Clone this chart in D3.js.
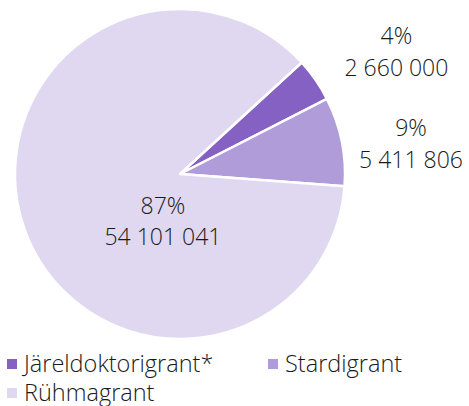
<!DOCTYPE html>
<html><head><meta charset="utf-8">
<script src="https://cdn.jsdelivr.net/npm/d3@7"></script>
<style>body{margin:0;background:#fff}svg{display:block}</style>
</head><body>
<svg id="c" width="469" height="406"></svg>
<script>
const categories = ["Järeldoktorigrant*", "Stardigrant", "Rühmagrant"];
const values = [2660000, 5411806, 54101041];
const percentLabels = ["4%", "9%", "87%"];
const valueLabels = ["2 660 000", "5 411 806", "54 101 041"];
const colors = ["#8561c4", "#b19cda", "#e0d8f0"];

const svg = d3.select("#c");
const cx = 180, cy = 174, R = 165;
const font = "'Open Sans', sans-serif";
const textColor = "#1a1a1a";

const pie = d3.pie().sort(null).value(d => d)
  .startAngle(47.5 * Math.PI / 180).endAngle(47.5 * Math.PI / 180 + 2 * Math.PI);
const arcs = pie(values);
const arc = d3.arc().innerRadius(0).outerRadius(R);

const g = svg.append("g").attr("transform", `translate(${cx},${cy})`);
g.selectAll("path").data(arcs).join("path")
  .attr("d", arc)
  .attr("fill", (d, i) => colors[i])
  .attr("stroke", "#fff").attr("stroke-width", 2.5).attr("stroke-linejoin", "round");

// label placement (angle in degrees clockwise from north, distance from centre)
const labelPlace = [
  {ang: 62.2, dist: 244.7},
  {ang: 84.5, dist: 232.1},
  {ang: 197.1, dist: 57.9}
];
arcs.forEach((a, i) => {
  const p = labelPlace[i];
  const t = p.ang * Math.PI / 180;
  const x = Math.sin(t) * p.dist, y = -Math.cos(t) * p.dist;
  const txt = g.append("text").attr("text-anchor", "middle")
    .attr("font-family", font).attr("font-weight", 300).attr("font-size", 23)
    .attr("fill", textColor);
  txt.append("tspan").attr("x", x).attr("y", y - 15.8).text(percentLabels[i]);
  txt.append("tspan").attr("x", x).attr("y", y + 15.8).text(valueLabels[i]);
});

// legend
const legendPos = [[7, 359], [268, 359], [7, 388]];
const lg = svg.append("g");
categories.forEach((c, i) => {
  const [x, y] = legendPos[i];
  lg.append("rect").attr("x", x).attr("y", y).attr("width", 10).attr("height", 10).attr("fill", colors[i]);
  lg.append("text").attr("x", x + 17).attr("y", y + 12.5)
    .attr("font-family", font).attr("font-weight", 300).attr("font-size", 23.5)
    .attr("fill", textColor).text(c);
});
</script>
</body></html>
